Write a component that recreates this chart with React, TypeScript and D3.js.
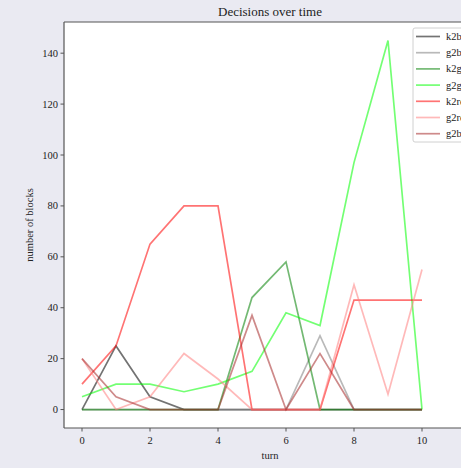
import React from "react";
import * as d3 from "d3";

const turns = [0, 1, 2, 3, 4, 5, 6, 7, 8, 9, 10];
const seriesNames = ["k2black", "g2black", "k2green", "g2green", "k2red", "g2red", "g2brown"];
const seriesColors = ["#000000", "#808080", "#008000", "#00ff00", "#ff0000", "#ff8080", "#a52a2a"];
const k2black = [0, 25, 5, 0, 0, 0, 0, 0, 0, 0, 0];
const g2black = [0, 0, 0, 0, 0, 0, 0, 29, 0, 0, 0];
const k2green = [0, 0, 0, 0, 0, 44, 58, 0, 0, 0, 0];
const g2green = [5, 10, 10, 7, 10, 15, 38, 33, 97, 145, 0];
const k2red = [10, 25, 65, 80, 80, 0, 0, 0, 43, 43, 43];
const g2red = [20, 0, 5, 22, 12, 0, 0, 0, 49, 6, 55];
const g2brown = [20, 5, 0, 0, 0, 37, 0, 22, 0, 0, 0];
const xTicks = [0, 2, 4, 6, 8, 10];
const yTicks = [0, 20, 40, 60, 80, 100, 120, 140];

const allSeries = [k2black, g2black, k2green, g2green, k2red, g2red, g2brown];

export default function App() {
  const W = 461, H = 468;
  const left = 64, top = 22, bottom = 428, right = 475;
  const x = d3.scaleLinear().domain([0, 10]).range([82, 422]);
  const y = d3.scaleLinear().domain([-7.25, 152.25]).range([bottom, top]);
  const line = d3.line<number>().x((_, i) => x(turns[i])).y((d) => y(d));
  const font = "'Liberation Serif', 'DejaVu Serif', serif";
  const spine = "#555";
  return (
    <svg width={W} height={H} style={{ position: "absolute", left: 0, top: 0, fontFamily: font }}>
      <rect x={0} y={0} width={W} height={H} fill="#eaeaf2" />
      <rect x={left} y={top} width={right - left} height={bottom - top} fill="#ffffff" />
      <text x={270} y={16} fontSize={13} textAnchor="middle" fill="#222">Decisions over time</text>
      {allSeries.map((s, i) => (
        <path key={i} d={line(s) || ""} fill="none" stroke={seriesColors[i]} strokeOpacity={0.55} strokeWidth={1.7} />
      ))}
      <line x1={left} y1={top} x2={right} y2={top} stroke={spine} strokeWidth={1.2} />
      <line x1={left} y1={top} x2={left} y2={bottom} stroke={spine} strokeWidth={1.2} />
      <line x1={left} y1={bottom} x2={right} y2={bottom} stroke={spine} strokeWidth={1.2} />
      {xTicks.map((t) => (
        <g key={t}>
          <line x1={x(t)} x2={x(t)} y1={bottom} y2={bottom + 3.5} stroke={spine} />
          <text x={x(t)} y={bottom + 16} fontSize={10.5} textAnchor="middle" fill="#222">{t}</text>
        </g>
      ))}
      {yTicks.map((t) => (
        <g key={t}>
          <line x1={left - 3.5} x2={left} y1={y(t)} y2={y(t)} stroke={spine} />
          <text x={left - 6} y={y(t) + 3.5} fontSize={10.5} textAnchor="end" fill="#222">{t}</text>
        </g>
      ))}
      <text x={270} y={459} fontSize={10.5} textAnchor="middle" fill="#222">turn</text>
      <text transform={`translate(33,${(top + bottom) / 2}) rotate(-90)`} fontSize={10.5} textAnchor="middle" fill="#222">number of blocks</text>
      <rect x={413} y={28} width={90} height={114} rx={2} fill="#ffffff" fillOpacity={0.85} stroke="#d0d0d0" />
      {seriesNames.map((n, i) => (
        <g key={n}>
          <line x1={416} x2={440} y1={36.5 + i * 16.2} y2={36.5 + i * 16.2} stroke={seriesColors[i]} strokeOpacity={0.55} strokeWidth={1.7} />
          <text x={446} y={40 + i * 16.2} fontSize={10.5} fill="#222">{n}</text>
        </g>
      ))}
    </svg>
  );
}
